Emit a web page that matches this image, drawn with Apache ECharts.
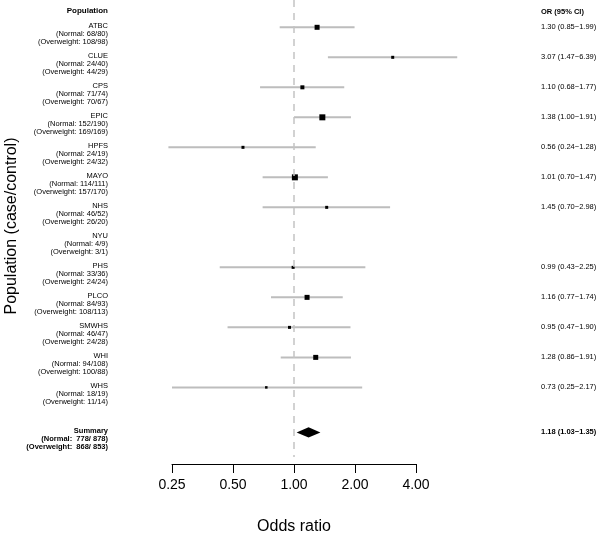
<!DOCTYPE html>
<html>
<head>
<meta charset="utf-8">
<script src="https://cdn.jsdelivr.net/npm/echarts@6/dist/echarts.min.js"></script>
<style>
html,body{margin:0;padding:0;background:#fff;}
#chart{width:600px;height:537px;}
</style>
</head>
<body>
<div id="chart"></div>
<script>
// ---- data ----
const studies = ['ATBC','CLUE','CPS','EPIC','HPFS','MAYO','NHS','NYU','PHS','PLCO','SMWHS','WHI','WHS'];
const normalCounts = ['68/80','24/40','71/74','152/190','24/19','114/111','46/52','4/9','33/36','84/93','46/47','94/108','18/19'];
const overweightCounts = ['108/98','44/29','70/67','169/169','24/32','157/170','26/20','3/1','24/24','108/113','24/28','100/88','11/14'];
const oddsRatio = [1.30,3.07,1.10,1.38,0.56,1.01,1.45,null,0.99,1.16,0.95,1.28,0.73];
const ciLow =     [0.85,1.47,0.68,1.00,0.24,0.70,0.70,null,0.43,0.77,0.47,0.86,0.25];
const ciHigh =    [1.99,6.39,1.77,1.91,1.28,1.47,2.98,null,2.25,1.74,1.90,1.91,2.17];
const boxSizes =  [5,3,4,6,3,6,3,null,3,5,3,5,2.5];
const summaryOR = 1.18, summaryLow = 1.03, summaryHigh = 1.35;
const summaryNormal = '778/ 878', summaryOverweight = '868/ 853';
const tickValues = [0.25,0.5,1,2,4];
const tickLabels = ['0.25','0.50','1.00','2.00','4.00'];

const summaryRow = studies.length + 0.5;
const headerRow = -0.5;
const FONT = '"Liberation Sans", Arial, sans-serif';

const ciData = [], boxData = [], labelData = [], rightData = [];
studies.forEach((s, i) => {
  labelData.push([1, i, s, '(Normal: ' + normalCounts[i] + ')', '(Overweight: ' + overweightCounts[i] + ')', 0]);
  if (oddsRatio[i] != null) {
    ciData.push([ciLow[i], i, ciHigh[i]]);
    boxData.push({value: [oddsRatio[i], i], symbolSize: boxSizes[i]});
    rightData.push([1, i, oddsRatio[i].toFixed(2) + ' (' + ciLow[i].toFixed(2) + '\u2212' + ciHigh[i].toFixed(2) + ')', 0]);
  }
});
labelData.push([1, summaryRow, 'Summary', '(Normal:  ' + summaryNormal + ')', '(Overweight:  ' + summaryOverweight + ')', 1]);
rightData.push([1, summaryRow, summaryOR.toFixed(2) + ' (' + summaryLow.toFixed(2) + '\u2212' + summaryHigh.toFixed(2) + ')', 1]);
rightData.push([1, headerRow, 'OR (95% CI)', 1]);
labelData.push([1, headerRow, 'Population', '', '', 1]);

const chart = echarts.init(document.getElementById('chart'), null, {renderer: 'canvas'});

const option = {
  animation: false,
  backgroundColor: '#fff',
  grid: [
    {left: 111, width: 366, top: 0, height: 457},
    {left: 172, width: 244, top: 463, height: 1}
  ],
  xAxis: [
    {gridIndex: 0, type: 'log', logBase: 2, min: 0.125, max: 8, show: false},
    {gridIndex: 1, type: 'log', logBase: 2, min: 0.25, max: 4, interval: 1,
      position: 'bottom',
      axisLine: {show: true, lineStyle: {color: '#000', width: 1}},
      axisTick: {show: true, inside: false, length: 9, lineStyle: {color: '#000', width: 1}},
      axisLabel: {show: true, margin: 14, fontSize: 14, color: '#000', fontFamily: FONT,
        formatter: v => { const k = tickValues.findIndex(t => Math.abs(t - v) < 1e-6); return k >= 0 ? tickLabels[k] : ''; }},
      splitLine: {show: false},
      name: 'Odds ratio', nameLocation: 'middle', nameGap: 55,
      nameTextStyle: {fontSize: 16, color: '#000', fontFamily: FONT}
    }
  ],
  yAxis: [
    {gridIndex: 0, type: 'value', inverse: true, min: -0.91, max: 14.32, show: false},
    {gridIndex: 1, type: 'value', min: 0, max: 1, show: false}
  ],
  graphic: [
    {type: 'text', x: 12, y: 226, rotation: Math.PI / 2,
      style: {text: 'Population (case/control)', font: '16px ' + FONT, fill: '#000',
        textAlign: 'center', textVerticalAlign: 'middle'}}
  ],
  series: [
    {
      type: 'custom', xAxisIndex: 0, yAxisIndex: 0, data: ciData, z: 2,
      renderItem: (params, api) => {
        const p1 = api.coord([api.value(0), api.value(1)]);
        const p2 = api.coord([api.value(2), api.value(1)]);
        return {type: 'line', shape: {x1: p1[0], y1: p1[1], x2: p2[0], y2: p2[1]},
          style: {stroke: '#bdbdbd', lineWidth: 2}};
      }
    },
    {
      type: 'scatter', xAxisIndex: 0, yAxisIndex: 0, data: boxData, symbol: 'rect', z: 4,
      itemStyle: {color: '#000', opacity: 1},
      markLine: {
        silent: true, symbol: 'none', label: {show: false},
        lineStyle: {color: '#c4c4c4', type: [7, 6], width: 1.5},
        data: [{xAxis: 1}]
      }
    },
    {
      type: 'custom', xAxisIndex: 0, yAxisIndex: 0, z: 4,
      data: [[summaryOR, summaryRow, summaryLow, summaryHigh]],
      renderItem: (params, api) => {
        const y = api.value(1);
        const l = api.coord([api.value(2), y]);
        const r = api.coord([api.value(3), y]);
        const t = api.coord([api.value(0), y - 0.17]);
        const b = api.coord([api.value(0), y + 0.17]);
        return {type: 'polygon', shape: {points: [l, t, r, b]}, style: {fill: '#000'}};
      }
    },
    {
      type: 'custom', xAxisIndex: 0, yAxisIndex: 0, data: labelData, z: 5,
      renderItem: (params, api) => {
        const d = labelData[params.dataIndex];
        const y = api.coord([1, d[1]])[1];
        const weight = d[5] ? 'bold ' : '';
        const fs = d[2] === 'Population' ? '8px ' : '7.5px ';
        const mk = (txt, dy) => ({type: 'text', style: {text: txt, x: 108, y: y + dy,
          textAlign: 'right', textVerticalAlign: 'middle', font: weight + fs + FONT, fill: '#000'}});
        return {type: 'group', children: [mk(d[2], -1.4), mk(d[3], 6.6), mk(d[4], 14.8)]};
      }
    },
    {
      type: 'custom', xAxisIndex: 0, yAxisIndex: 0, data: rightData, z: 5,
      renderItem: (params, api) => {
        const d = rightData[params.dataIndex];
        const y = api.coord([1, d[1]])[1];
        const weight = d[3] ? 'bold ' : '';
        return {type: 'text', style: {text: d[2], x: 541, y: y,
          textAlign: 'left', textVerticalAlign: 'middle', font: weight + '7.5px ' + FONT, fill: '#000'}};
      }
    }
  ]
};
chart.setOption(option);
</script>
</body>
</html>
